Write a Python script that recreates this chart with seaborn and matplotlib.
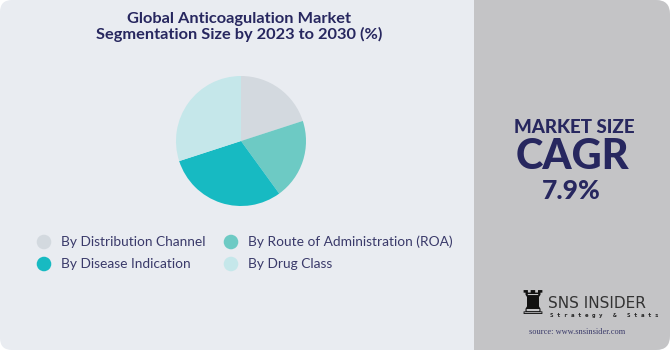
import matplotlib
matplotlib.use("Agg")
import matplotlib.pyplot as plt
from matplotlib.patches import FancyBboxPatch, Rectangle
import seaborn as sns

categories = ["By Distribution Channel", "By Route of Administration (ROA)",
              "By Disease Indication", "By Drug Class"]
shares = [20, 20, 30, 30]
colors = ["#D3D9DF", "#6DCAC4", "#17BAC2", "#C5E7EA"]
title = "Global Anticoagulation Market\nSegmentation Size by 2023 to 2030 (%)"
cagr_value = "7.9%"

sns.set_theme(style="white")
plt.rcParams['font.family'] = ['Lato', 'DejaVu Sans']

W, H = 670, 350
fig = plt.figure(figsize=(W / 100, H / 100), dpi=100)
fig.patch.set_facecolor("white")

bg = fig.add_axes([0, 0, 1, 1])
bg.set_xlim(0, W)
bg.set_ylim(H, 0)
bg.axis("off")
bg.add_patch(FancyBboxPatch((0, 0), W - 2, H, boxstyle="round,pad=0,rounding_size=12",
                            fc="#E9ECF1", ec="none"))
bg.add_patch(FancyBboxPatch((474, 0), W - 474, H, boxstyle="round,pad=0,rounding_size=14",
                            fc="#C4C4C6", ec="none"))
bg.add_patch(Rectangle((474, 0), 20, H, fc="#C4C4C6", ec="none"))

navy = "#27275F"
bg.text(239, 27, title, ha="center", va="center", fontsize=11.8, fontweight="bold",
        color=navy, linespacing=1.15)

# pie
cx, cy, r = 241, 141, 65
pax = fig.add_axes([(cx - r) / W, (H - cy - r) / H, 2 * r / W, 2 * r / H])
pax.pie(shares, colors=colors, startangle=90, counterclock=False,
        wedgeprops=dict(linewidth=0))
pax.set_xlim(-1, 1)
pax.set_ylim(-1, 1)
pax.set_aspect("equal")
pax.axis("off")

# legend
pos = [(44, 242), (231, 242), (44, 264), (231, 264)]
for (x, y), i in zip(pos, range(4)):
    bg.scatter([x], [y], s=110, color=colors[i], edgecolors="none")
    bg.text(x + 17, y, categories[i], ha="left", va="center", fontsize=9.9,
            color="#3A3A6A")

# right panel text
bg.text(574, 133, "MARKET SIZE", ha="center", va="baseline", fontsize=13.5,
        fontweight="black", color=navy)
bg.text(572, 169, "CAGR", ha="center", va="baseline", fontsize=30,
        fontweight="black", color=navy)
bg.text(571, 199, cagr_value, ha="center", va="baseline", fontsize=19,
        fontweight="black", color=navy)

# logo
bg.text(532, 305, "\u265C", ha="center", va="center", fontsize=24, color="#111111",
        family="DejaVu Sans")
bg.text(548, 303, "SNS INSIDER", ha="left", va="center", fontsize=11,
        color="#333333", family="Liberation Sans Narrow")
bg.text(550, 316, "S t r a t e g y   &   S t a t s", ha="left", va="center", fontsize=4.2,
        color="#222222", family="DejaVu Sans Mono", fontweight="bold")
bg.text(577, 332, "source: www.snsinsider.com", ha="center", va="center", fontsize=6,
        color="#3A3A6A", family="Liberation Serif")

fig.savefig("out.png", dpi=100)
